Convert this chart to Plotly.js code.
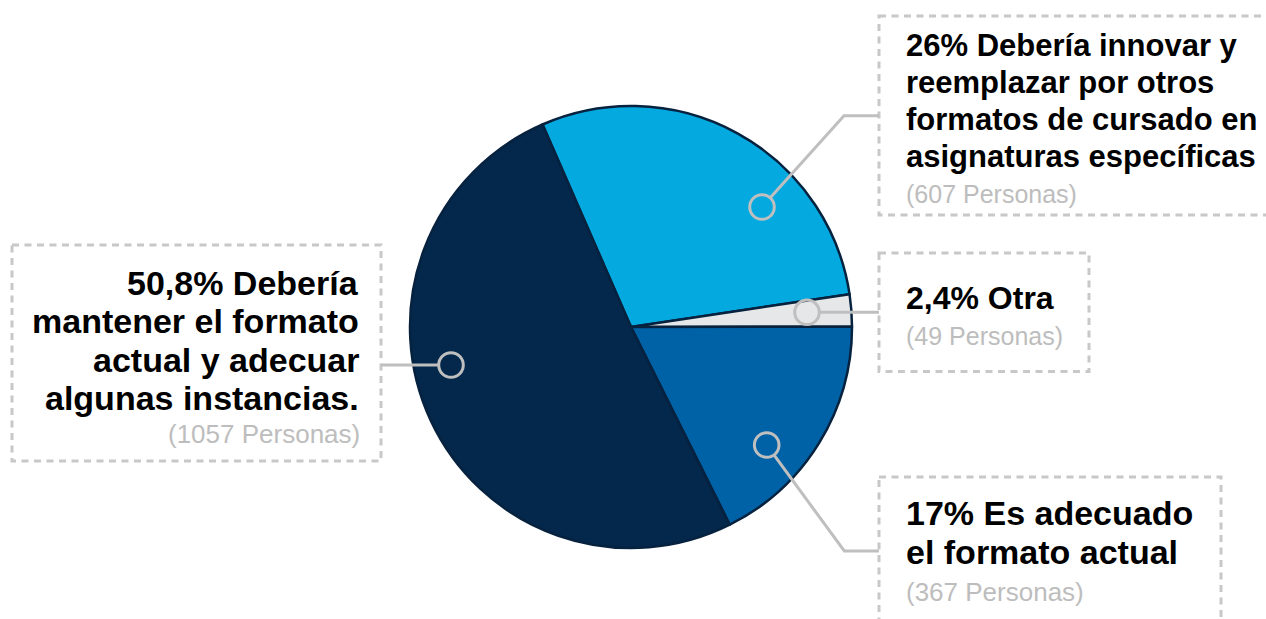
<!DOCTYPE html>
<html>
<head>
<meta charset="utf-8">
<script src="https://cdn.plot.ly/plotly-3.0.1.min.js"></script>
<style>html,body{margin:0;padding:0;background:#fff;}#chart{width:1266px;height:619px;}</style>
</head>
<body>
<div id="chart"></div>
<script>
// ---- data ----
const categories = ['Debería innovar y reemplazar', 'Otra', 'Es adecuado el formato actual', 'Debería mantener el formato actual'];
const personas = [607, 49, 367, 1057];
const sliceColors = ['#04a9e0', '#e6e7e8', '#0062a6', '#03284b'];
const labelLines = [
  ['26% Debería innovar y', 'reemplazar por otros', 'formatos de cursado en', 'asignaturas específicas'],
  ['2,4% Otra'],
  ['17% Es adecuado', 'el formato actual'],
  ['50,8% Debería', 'mantener el formato', 'actual y adecuar', 'algunas instancias.']
];
const subLabels = personas.map(v => '(' + v + ' Personas)');

// ---- layout geometry (pixels) ----
const W = 1266, H = 619;
const X = p => p / W, Y = p => 1 - p / H;
const pie = {cx: 631, cy: 327, r: 221};
const labelCfg = [
  {x: 904, anchor: 'left', fs: 31, base0: 56.7, step: 37, subFs: 25, subBase: 203,
   box: [879, 16, 1275, 215], circle: [762, 207], path: [[844, 115.7], [879, 115.7]]},
  {x: 904, anchor: 'left', fs: 32, base0: 309.3, step: 37, subFs: 25, subBase: 345,
   box: [879, 253, 1089, 371.5], circle: [807, 312.3], path: [[879, 312.3]]},
  {x: 904, anchor: 'left', fs: 34, base0: 525, step: 38.3, subFs: 26, subBase: 601,
   box: [879, 477, 1221, 640], circle: [766.7, 445], path: [[844.3, 551], [879, 551]]},
  {x: 361, anchor: 'right', fs: 34, base0: 294.3, step: 38.5, subFs: 26, subBase: 443.5,
   box: [12, 245, 381, 461], circle: [451, 365], path: [[381, 365]]}
];
const circR = 12.3;
const grey = '#bfbfbf';
const FONT = 'Liberation Sans, Arial, Helvetica, sans-serif';

const annotations = [];
const shapes = [];
labelCfg.forEach((c, i) => {
  labelLines[i].forEach((t, k) => {
    const base = c.base0 + k * c.step;
    annotations.push({
      xref: 'paper', yref: 'paper', x: X(c.x), y: Y(base - 0.3465 * c.fs),
      xanchor: c.anchor, yanchor: 'middle', showarrow: false,
      text: '<b>' + t + '</b>', font: {family: FONT, size: c.fs, color: '#000000'}
    });
  });
  annotations.push({
    xref: 'paper', yref: 'paper', x: X(c.x + (c.anchor === 'right' ? 1 : 0)), y: Y(c.subBase - 0.3465 * c.subFs),
    xanchor: c.anchor, yanchor: 'middle', showarrow: false,
    text: subLabels[i], font: {family: FONT, size: c.subFs, color: '#bdbdbd'}
  });
  // dashed box
  shapes.push({type: 'rect', xref: 'paper', yref: 'paper',
    x0: X(c.box[0]), x1: X(c.box[2]), y0: Y(c.box[1]), y1: Y(c.box[3]),
    line: {color: '#c8c8c8', width: 3, dash: '7px,5.5px'}, fillcolor: 'rgba(0,0,0,0)'});
  // leader circle
  const [ccx, ccy] = c.circle;
  shapes.push({type: 'circle', xref: 'paper', yref: 'paper',
    x0: X(ccx - circR), x1: X(ccx + circR), y0: Y(ccy + circR), y1: Y(ccy - circR),
    line: {color: grey, width: 3}, fillcolor: 'rgba(0,0,0,0)'});
  // leader path starting on circle edge
  const [p1x, p1y] = c.path[0];
  const d = Math.hypot(p1x - ccx, p1y - ccy);
  const sx = ccx + (p1x - ccx) / d * circR, sy = ccy + (p1y - ccy) / d * circR;
  let path = 'M ' + X(sx) + ',' + Y(sy);
  c.path.forEach(p => { path += ' L ' + X(p[0]) + ',' + Y(p[1]); });
  shapes.push({type: 'path', xref: 'paper', yref: 'paper', path: path,
    line: {color: grey, width: 3}});
});

const startAngle = -23.6;

const trace = {
  type: 'pie',
  labels: categories,
  values: personas,
  sort: false,
  direction: 'clockwise',
  rotation: startAngle,
  marker: {colors: sliceColors, line: {color: '#06223f', width: 2.5}},
  textinfo: 'none',
  hoverinfo: 'label+value+percent',
  showlegend: false,
  domain: {x: [X(pie.cx - pie.r), X(pie.cx + pie.r)], y: [Y(pie.cy + pie.r), Y(pie.cy - pie.r)]}
};

const layout = {
  width: W, height: H,
  margin: {l: 0, r: 0, t: 0, b: 0},
  paper_bgcolor: '#ffffff', plot_bgcolor: '#ffffff',
  showlegend: false,
  annotations: annotations,
  shapes: shapes
};

Plotly.newPlot('chart', [trace], layout, {displayModeBar: false, staticPlot: true});
</script>
</body>
</html>
